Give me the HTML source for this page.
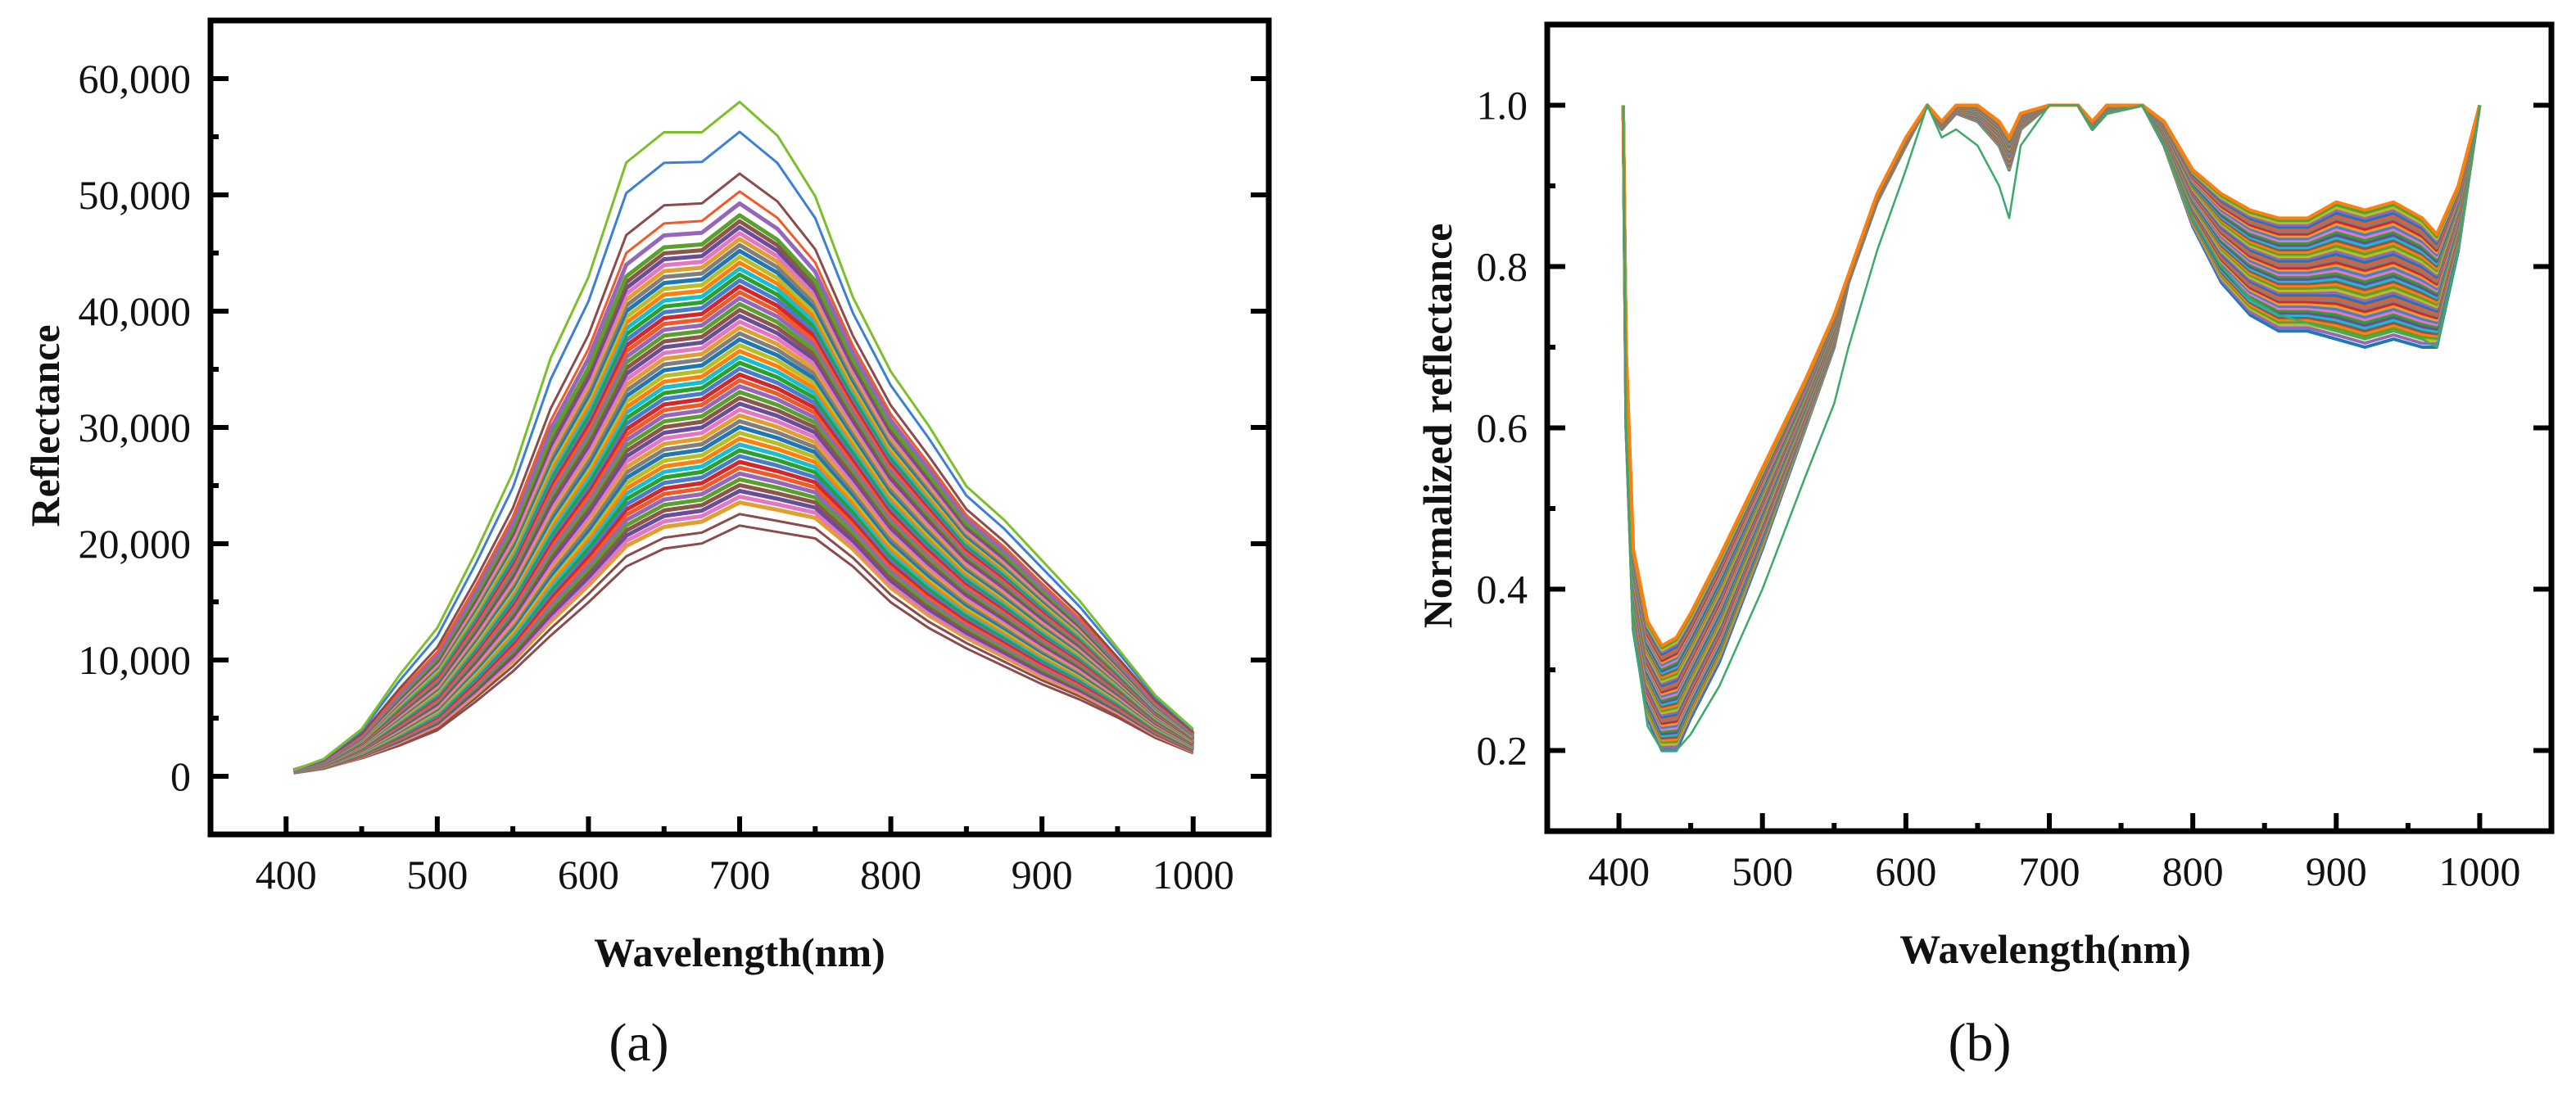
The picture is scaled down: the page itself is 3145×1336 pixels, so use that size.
<!DOCTYPE html>
<html><head><meta charset="utf-8">
<style>
html,body{margin:0;padding:0;background:#fff;}
svg{display:block;}
text{font-family:"Liberation Serif",serif;fill:#111;}
</style></head>
<body>
<svg id="fig" width="3145" height="1336" viewBox="0 0 3145 1336" xmlns="http://www.w3.org/2000/svg">
<g id="pa"></g>
<g id="pb"></g>
</svg>
<script>
// ---------- Panel (a) data ----------
const waveA = [405,425,450,475,500,525,550,575,600,625,650,675,700,725,750,775,800,825,850,875,900,925,950,975,1000];
const shapeLowA = [.014,.03,.07,.12,.18,.29,.41,.55,.68,.82,.89,.91,.98,.955,.93,.82,.68,.58,.50,.43,.36,.30,.23,.15,.09];
const shapeHighA = [.009,.026,.07,.15,.22,.33,.45,.62,.74,.91,.955,.955,1.0,.95,.86,.71,.60,.52,.43,.38,.32,.26,.19,.12,.07];
const peaksA = [22000,23000,24000,24500,25000,25500,26000,26500,27000,27500,28000,28500,29000,29500,30000,30500,31000,31500,32000,32500,33000,33500,34000,34500,35000,35500,36000,36500,37000,37500,38000,38500,39000,39500,40000,40500,41000,41500,42000,42500,43000,43500,44000,44500,45000,45500,46000,46500,47000,47500,48000,48500,49500,50500,52000,55500,58000];
const yTicksA = [0,10000,20000,30000,40000,50000,60000];
const yTickLabelsA = ["0","10,000","20,000","30,000","40,000","50,000","60,000"];
const xTicks = [400,500,600,700,800,900,1000];

// ---------- Panel (b) data ----------
const waveB = [403,405,410,420,430,440,450,470,500,530,550,560,580,600,615,625,635,650,665,672,680,700,720,730,740,765,780,800,820,840,860,880,900,920,940,960,970,985,1000];
const shapeLowB = [1.0,.6,.35,.24,.20,.20,.24,.31,.45,.60,.70,.78,.88,.95,1.0,.97,.99,.98,.95,.92,.97,1.0,1.0,.97,.99,1.0,.95,.85,.78,.74,.72,.72,.71,.70,.71,.70,.70,.82,1.0];
const shapeHighB = [1.0,.7,.45,.36,.33,.34,.37,.44,.55,.66,.74,.79,.89,.96,1.0,.98,1.0,1.0,.98,.96,.99,1.0,1.0,.98,1.0,1.0,.98,.92,.89,.87,.86,.86,.88,.87,.88,.86,.84,.90,1.0];
const outlierB = [1.0,.6,.35,.23,.20,.20,.22,.28,.40,.54,.63,.70,.82,.92,1.0,.96,.97,.95,.90,.86,.95,1.0,1.0,.97,.99,1.0,.95,.86,.80,.76,.74,.73,.72,.71,.72,.71,.70,.82,1.0];
const mixB = [0,.03,.06,.08,.1,.12,.14,.16,.18,.2,.22,.24,.26,.28,.3,.32,.34,.36,.38,.4,.42,.44,.46,.48,.5,.52,.54,.56,.58,.6,.62,.64,.66,.68,.7,.72,.74,.76,.78,.8,.82,.84,.86,.88,.9,.92,.94,.96,.98,1];
const yTicksB = [0.2,0.4,0.6,0.8,1.0];
const yTickLabelsB = ["0.2","0.4","0.6","0.8","1.0"];

const palette = ["#1f77b4","#ff7f0e","#2ca02c","#d62728","#9467bd","#8c564b","#e377c2","#7f7f7f","#bcbd22","#17becf","#4a7bd0","#f05a28","#5aa02c","#6b4c9a","#e0a030"];
const NS = "http://www.w3.org/2000/svg";
function mk(tag, attrs, parent){const e=document.createElementNS(NS,tag);for(const k in attrs)e.setAttribute(k,attrs[k]);parent.appendChild(e);return e;}

function drawPanel(g, cfg){
  const {L,T,R,B,x0,x1,y0,y1} = cfg;
  const sx = v => L + (v-x0)/(x1-x0)*(R-L);
  const sy = v => B - (v-y0)/(y1-y0)*(B-T);
  const plot = mk("g",{},g);
  
  
  cfg.series.forEach((s,i)=>{
    let d = "";
    s.xs.forEach((x,j)=>{ d += (j?"L":"M")+sx(x).toFixed(1)+","+sy(s.ys[j]).toFixed(1); });
    const p = mk("path",{d:d,fill:"none",stroke:s.color,"stroke-width":s.w||cfg.sw,"stroke-linejoin":"round"},plot);
    
    
  });
  const fr = mk("rect",{x:L,y:T,width:R-L,height:B-T,fill:"none",stroke:"#000","stroke-width":7},g);
  
  
  xTicks.forEach(v=>{
    const x=sx(v);
    const t=mk("line",{x1:x,x2:x,y1:B,y2:B-22,stroke:"#000","stroke-width":6},g);
    
    
    const m=mk("line",{x1:sx(v+50),x2:sx(v+50),y1:B,y2:B-10,stroke:"#000","stroke-width":6},g);
    
    
    const lb=mk("text",{x:x,y:B+66,"text-anchor":"middle","font-size":50},g);
    lb.textContent=v;
    
    
  });
  cfg.yTicks.forEach((v,i)=>{
    const y=sy(v);
    [[L,L+22],[R,R-22]].forEach(([a,b])=>{
      const t=mk("line",{x1:a,x2:b,y1:y,y2:y,stroke:"#000","stroke-width":6},g);
      
      
    });
    const mv=v+cfg.yMinor;
    if(mv<y1){const m=mk("line",{x1:L,x2:L+10,y1:sy(mv),y2:sy(mv),stroke:"#000","stroke-width":6},g);
      
      }
    const lb=mk("text",{x:L-24,y:y+17,"text-anchor":"end","font-size":50},g);
    lb.textContent=cfg.yLabels[i];
    
    
  });
  const xt=mk("text",{x:cfg.xtX,y:cfg.xtY,"text-anchor":"middle","font-size":50,"font-weight":"bold"},g);
  xt.textContent="Wavelength(nm)";
  
  
  const yt=mk("text",{x:0,y:0,"text-anchor":"middle","font-size":50,"font-weight":"bold",transform:`translate(${cfg.ytX},${cfg.ytY}) rotate(-90)`},g);
  yt.textContent=cfg.yTitle;
  
  
  const cap=mk("text",{x:cfg.capX,y:1295,"text-anchor":"middle","font-size":66},g);
  cap.textContent=cfg.cap;
  
  
}

const seriesA = [];
const pmin = 22000, pmax = 58000;
peaksA.forEach((pk,i)=>{
  const m = (pk-pmin)/(pmax-pmin);
  const ys = waveA.map((w,j)=> pk*((1-m)*shapeLowA[j] + m*shapeHighA[j]));
  let color = palette[(i*7)%palette.length];
  if(pk===58000) color="#7cbf2a";
  if(pk===55500) color="#3c7fd8";
  if(pk===22000||pk===23000||pk===52000) color="#8c4b4b";
  seriesA.push({xs:waveA, ys:ys, color:color, w:(pk>=50500||pk<=23000)?3:0});
});
const seriesB = [];
mixB.forEach((m,i)=>{
  const ys = waveB.map((w,j)=> Math.min(1,(1-m)*shapeLowB[j] + m*shapeHighB[j]));
  seriesB.push({xs:waveB, ys:ys, color:palette[(i*4)%palette.length]});
});
seriesB.push({xs:waveB, ys:outlierB, color:"#3aaa6a", w:2.5});

drawPanel(document.getElementById("pa"),{L:257,T:25,R:1549,B:1019,x0:350,x1:1050,y0:-5000,y1:65000,sw:5,
  series:seriesA,yTicks:yTicksA,yLabels:yTickLabelsA,yMinor:5000,
  xtX:903,xtY:1180,ytX:72,ytY:520,yTitle:"Reflectance",cap:"(a)",capX:780});
drawPanel(document.getElementById("pb"),{L:1889,T:30,R:3115,B:1015,x0:350,x1:1050,y0:0.1,y1:1.1,sw:4,
  series:seriesB,yTicks:yTicksB,yLabels:yTickLabelsB,yMinor:0.1,
  xtX:2497,xtY:1176,ytX:1772,ytY:520,yTitle:"Normalized reflectance",cap:"(b)",capX:2417});
</script>
</body></html>
